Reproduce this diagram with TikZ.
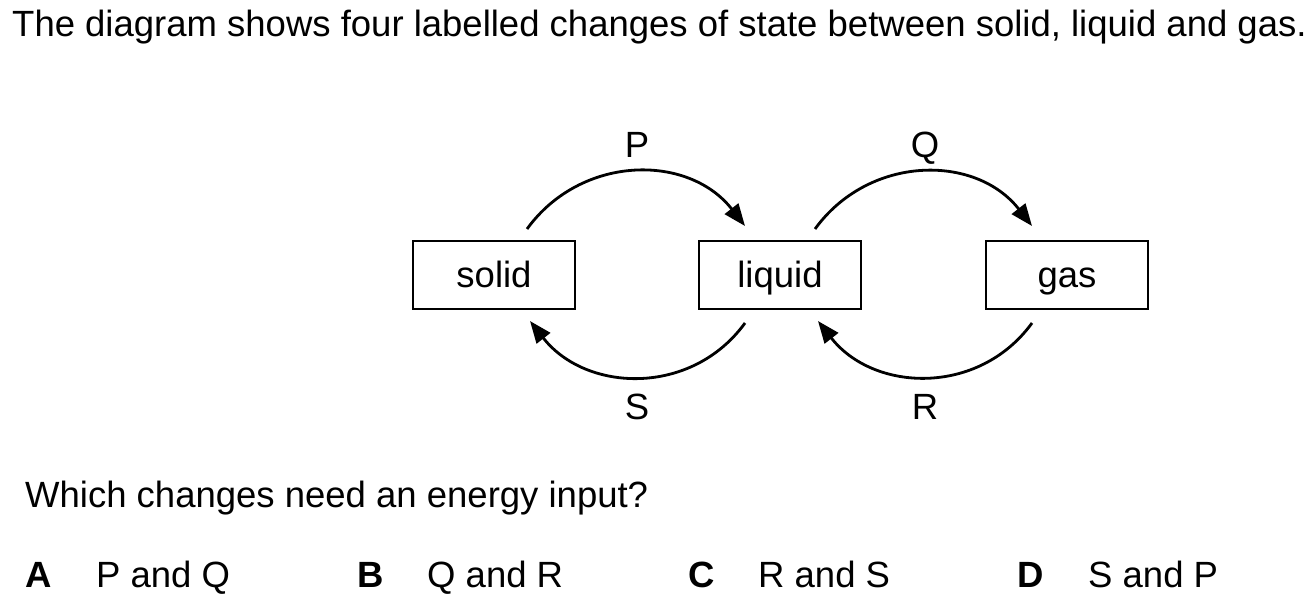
\documentclass[tikz,border=0pt]{standalone}
\usepackage{fontspec}
\setmainfont{Liberation Sans}
\usetikzlibrary{arrows.meta}
\begin{document}
\begin{tikzpicture}[x=1pt,y=-1pt,
  txt/.style={inner sep=0pt,font=\fontsize{36.5}{42}\selectfont},
  state/.style={draw,line width=2.8pt,minimum width=162pt,minimum height=68pt,inner sep=0pt,text height=34pt,text depth=8pt,font=\fontsize{36.5}{42}\selectfont},
  change/.style={line width=2.8pt,-{Triangle[length=22pt,width=17pt]},looseness=1.08}]
\useasboundingbox (0,0) rectangle (1315,609);
\node[txt,anchor=base west] (title) at (12,37) {The diagram shows four labelled changes of state between solid, liquid and gas.};
\node[state] (solid) at (494,275) {solid};
\node[state] (liquid) at (780,275) {liquid};
\node[state] (gas) at (1067,275) {gas};
\coordinate (p1) at (527,229);
\coordinate (p2) at (745,226);
\coordinate (q1) at (815,229);
\coordinate (q2) at (1032,226);
\coordinate (s1) at (745,323);
\coordinate (s2) at (530,321);
\coordinate (r1) at (1032,323);
\coordinate (r2) at (818,321);
\draw[change] (p1) to[out=54,in=128] (p2);
\draw[change] (q1) to[out=54,in=128] (q2);
\draw[change] (s1) to[out=-126,in=-52] (s2);
\draw[change] (r1) to[out=-126,in=-52] (r2);
\node[txt,anchor=base] (P) at (637,158) {P};
\node[txt,anchor=base] (Q) at (925,158) {Q};
\node[txt,anchor=base] (S) at (637,420) {S};
\node[txt,anchor=base] (R) at (925,420) {R};
\node[txt,anchor=base west] (question) at (25,507) {Which changes need an energy input?};
\node[txt,anchor=base west,font=\fontsize{36.5}{42}\selectfont\bfseries] (A) at (25,587) {A};
\node[txt,anchor=base west] (Aa) at (96,587) {P and Q};
\node[txt,anchor=base west,font=\fontsize{36.5}{42}\selectfont\bfseries] (B) at (357,587) {B};
\node[txt,anchor=base west] (Ba) at (427,587) {Q and R};
\node[txt,anchor=base west,font=\fontsize{36.5}{42}\selectfont\bfseries] (C) at (688,587) {C};
\node[txt,anchor=base west] (Ca) at (758,587) {R and S};
\node[txt,anchor=base west,font=\fontsize{36.5}{42}\selectfont\bfseries] (D) at (1017,587) {D};
\node[txt,anchor=base west] (Da) at (1088,587) {S and P};
\end{tikzpicture}
\end{document}
